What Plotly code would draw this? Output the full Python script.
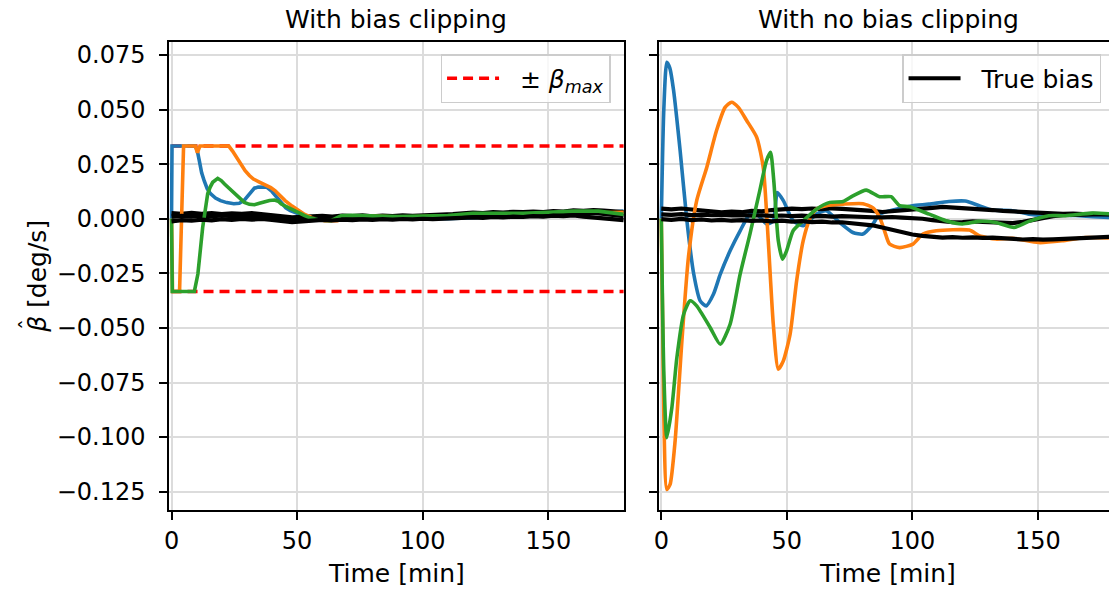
import plotly.graph_objects as go

# ---------------- data ----------------
beta_max = 0.0333
xtick_vals = [0, 50, 100, 150]
xtick_text = ["0", "50", "100", "150"]
ytick_vals = [0.075, 0.05, 0.025, 0.0, -0.025, -0.05, -0.075, -0.1, -0.125]
ytick_text = ["0.075", "0.050", "0.025", "0.000", "\u22120.025", "\u22120.050",
              "\u22120.075", "\u22120.100", "\u22120.125"]

# time grid of true bias samples [min]
t_true = [0, 4, 8, 12, 16, 20, 24, 28, 32, 36, 40, 44, 48, 52, 56, 60, 64, 68, 72, 76,
          80, 84, 88, 92, 96, 100, 104, 108, 112, 116, 120, 124, 128, 132, 136, 140,
          144, 148, 152, 156, 160, 164, 168, 172, 176, 180]

# left panel (with bias clipping) true biases
true_L1 = [0.0026, 0.0022, 0.0027, 0.0023, 0.0026, 0.0021, 0.0025, 0.0022, 0.0026, 0.0021,
           0.0019, 0.0012, 0.0006, 0.0009, 0.0011, 0.0013, 0.0010, 0.0014, 0.0012, 0.0015,
           0.0011, 0.0014, 0.0012, 0.0016, 0.0013, 0.0015, 0.0018, 0.0016, 0.0021, 0.0025,
           0.0028, 0.0026, 0.0030, 0.0028, 0.0032, 0.0030, 0.0033, 0.0031, 0.0035, 0.0033,
           0.0038, 0.0036, 0.0040, 0.0037, 0.0035, 0.0030]
true_L2 = [0.0009, 0.0013, 0.0010, 0.0014, 0.0011, 0.0015, 0.0012, 0.0014, 0.0010, 0.0012,
           0.0008, 0.0003, -0.0004, -0.0001, 0.0002, 0.0004, 0.0001, 0.0005, 0.0003, 0.0006,
           0.0002, 0.0005, 0.0004, 0.0007, 0.0005, 0.0008, 0.0006, 0.0010, 0.0009, 0.0013,
           0.0016, 0.0014, 0.0018, 0.0016, 0.0020, 0.0018, 0.0022, 0.0020, 0.0024, 0.0022,
           0.0026, 0.0024, 0.0027, 0.0022, 0.0016, 0.0012]
true_L3 = [-0.0012, -0.0006, -0.0009, -0.0004, -0.0007, -0.0002, -0.0005, -0.0001, -0.0004, -0.0001,
           -0.0005, -0.0010, -0.0016, -0.0012, -0.0008, -0.0005, -0.0008, -0.0004, -0.0006, -0.0003,
           -0.0005, -0.0002, -0.0004, -0.0001, -0.0003, 0.0000, -0.0002, 0.0001, 0.0000, 0.0003,
           0.0006, 0.0004, 0.0008, 0.0006, 0.0010, 0.0008, 0.0012, 0.0010, 0.0014, 0.0012,
           0.0015, 0.0010, 0.0006, 0.0001, -0.0004, -0.0006]

# right panel (no bias clipping) true biases
true_R1 = [0.0046, 0.0043, 0.0047, 0.0042, 0.0036, 0.0031, 0.0029, 0.0033, 0.0030, 0.0036,
           0.0034, 0.0040, 0.0043, 0.0046, 0.0044, 0.0047, 0.0044, 0.0048, 0.0045, 0.0043,
           0.0040, 0.0036, 0.0031, 0.0034, 0.0037, 0.0040, 0.0045, 0.0050, 0.0054, 0.0052,
           0.0048, 0.0045, 0.0042, 0.0040, 0.0036, 0.0033, 0.0030, 0.0028, 0.0025, 0.0024,
           0.0022, 0.0024, 0.0021, 0.0023, 0.0021, 0.0020]
true_R2 = [0.0020, 0.0018, 0.0021, 0.0017, 0.0019, 0.0016, 0.0018, 0.0015, 0.0017, 0.0014,
           0.0016, 0.0013, 0.0015, 0.0012, 0.0014, 0.0011, 0.0013, 0.0010, 0.0012, 0.0009,
           0.0010, 0.0007, 0.0006, 0.0008, 0.0005, 0.0004, 0.0000, -0.0006, -0.0012, -0.0016,
           -0.0015, -0.0012, -0.0014, -0.0016, -0.0018, -0.0020, -0.0014, -0.0004, 0.0006, 0.0012,
           0.0016, 0.0018, 0.0020, 0.0019, 0.0021, 0.0020]
true_R3 = [-0.0002, -0.0005, -0.0001, -0.0006, -0.0003, -0.0008, -0.0005, -0.0009, -0.0006, -0.0010,
           -0.0008, -0.0012, -0.0009, -0.0013, -0.0011, -0.0015, -0.0013, -0.0017, -0.0016, -0.0020,
           -0.0024, -0.0030, -0.0040, -0.0052, -0.0063, -0.0072, -0.0078, -0.0083, -0.0086, -0.0084,
           -0.0087, -0.0085, -0.0088, -0.0086, -0.0090, -0.0092, -0.0095, -0.0093, -0.0096, -0.0094,
           -0.0092, -0.0090, -0.0088, -0.0086, -0.0084, -0.0082]

# left panel estimates (clipped to +/- beta_max)
blueL_t = [0, 0.2, 9.5, 10.3, 11.0, 12.0, 13.0, 14.2, 15.5, 17.5, 19.5, 22.0, 24.8, 27.0, 29.0,
           31.3, 33.0, 34.5, 38.0, 40.0, 41.5, 43.3, 45.5, 47.3, 50.0, 52.6, 56.6, 60.0, 64.0,
           67.0, 72.0, 80, 90, 100, 110, 120, 130, 140, 150, 160, 170, 180]
blueL_v = [0.0, 0.0333, 0.0333, 0.031, 0.027, 0.021, 0.0174, 0.0138, 0.0115, 0.0095, 0.0083,
           0.0074, 0.0069, 0.0071, 0.0085, 0.012, 0.014, 0.0145, 0.0144, 0.0125, 0.0105, 0.0075,
           0.005, 0.0037, 0.0024, 0.0014, 0.0003, -0.0004, -0.0005, -0.0002, 0.0008, 0.0005,
           0.0003, 0.0002, 0.0, 0.0005, 0.001, 0.0012, 0.0018, 0.0022, 0.0025, 0.0035]
orangeL_t = [0, 0.4, 3.2, 4.8, 9.5, 10.3, 11.3, 22.8, 24.3, 26.0, 27.5, 29.3, 31.0, 32.6, 35.0,
             37.3, 39.5, 41.3, 43.3, 45.2, 48.0, 50.5, 53.0, 55.8, 58.5, 61.0, 66.0, 68.5, 71.6,
             80, 90, 100, 110, 120, 130, 140, 150, 160, 170, 180]
orangeL_v = [0.0, -0.0333, -0.0333, 0.0333, 0.0333, 0.0303, 0.0333, 0.0333, 0.031, 0.0281,
             0.025, 0.022, 0.0198, 0.0182, 0.0168, 0.0156, 0.0143, 0.0128, 0.0105, 0.0083,
             0.0058, 0.0037, 0.002, 0.0006, -0.0004, -0.0009, -0.0009, 0.0, 0.0006, 0.0012,
             0.0008, 0.001, 0.0008, 0.0012, 0.0015, 0.0018, 0.002, 0.0025, 0.0028, 0.003]
greenL_t = [0, 0.3, 9.1, 10.5, 12.4, 14.4, 15.4, 16.4, 18.4, 19.8, 21.1, 23.0, 25.0, 27.0, 29.0,
            31.0, 33.0, 35.0, 37.0, 39.0, 41.0, 42.5, 43.7, 45.7, 47.7, 50.0, 53.0, 55.5, 58.3,
            63.5, 65.5, 67.5, 71.6, 80, 90, 100, 110, 120, 130, 140, 150, 160, 170, 180]
greenL_v = [0.0, -0.0333, -0.0333, -0.0253, -0.004, 0.0115, 0.0145, 0.0167, 0.0185, 0.0175,
            0.0159, 0.014, 0.012, 0.0095, 0.0075, 0.0066, 0.0064, 0.0071, 0.0079, 0.0084, 0.0086,
            0.008, 0.0067, 0.0055, 0.0044, 0.003, 0.0014, 0.0003, -0.0005, -0.0009, 0.0003,
            0.0014, 0.0016, 0.0014, 0.001, 0.0012, 0.0015, 0.0025, 0.0025, 0.0025, 0.003, 0.0035,
            0.0035, 0.002]

# right panel estimates
blueR_t = [0, 1.0, 2.2, 3.4, 4.9, 7.5, 10.2, 12.9, 15.5, 17.9, 20.8, 23.5, 27.4, 31.4, 35.3,
           38, 42, 44.6, 46.2, 48.6, 52.5, 56.5, 61.8, 65.7, 71, 76.3, 80.3, 84.3, 86.9, 93.5,
           100, 106.6, 114.5, 121, 126.6, 131.9, 139.8, 146.4, 153, 159.6, 166.3, 172, 180]
blueR_v = [0.0, 0.05, 0.0717, 0.069, 0.0587, 0.0312, -0.0009, -0.0252, -0.0376, -0.0399,
           -0.0345, -0.0254, -0.0147, -0.0055, 0.0021, 0.0021, -0.0024, -0.001, 0.012, 0.0083,
           -0.0009, -0.0032, 0.0021, 0.0037, -0.0017, -0.0063, -0.007, -0.0024, 0.0021, 0.0044,
           0.006, 0.0067, 0.0079, 0.0081, 0.006, 0.004, 0.0037, 0.0021, 0.0014, 0.0018, 0.0014,
           0.001, 0.0005]
orangeR_t = [0, 1.0, 2.2, 3.5, 5.5, 8.2, 10.8, 14.1, 18.1, 22, 25.4, 28, 30.7, 34, 38, 40.6,
             42.6, 44.6, 46.6, 48.6, 51.3, 53.9, 56.5, 59.2, 61.8, 65.7, 72.4, 80.3, 84.3, 86.9,
             88.9, 90.9, 94.9, 100.2, 104.2, 109.5, 122.7, 126.6, 133.2, 139.8, 150.4, 159.6,
             168.9, 180]
orangeR_v = [0.0, -0.09, -0.124, -0.1217, -0.1018, -0.056, -0.0177, 0.0083, 0.0235, 0.0404,
             0.051, 0.0534, 0.051, 0.045, 0.0373, 0.0235, -0.0101, -0.0483, -0.0689, -0.0651,
             -0.0529, -0.0284, -0.0101, 0.0, 0.0044, 0.006, 0.0067, 0.0069, 0.005, 0.0008,
             -0.0055, -0.0116, -0.0132, -0.0116, -0.007, -0.0055, -0.0052, -0.0078, -0.0093,
             -0.009, -0.0109, -0.0101, -0.0086, -0.0089]
greenR_t = [0, 1.0, 2.2, 4.2, 6.2, 8.9, 11.5, 14.1, 19.5, 23.5, 27.4, 31.4, 35.3, 39.2, 41.9,
            43.5, 44.8, 46.6, 48.3, 49.9, 52.5, 56.5, 61.8, 67.1, 72.4, 76.3, 81.6, 86.9, 91.5,
            94.9, 98.8, 106.7, 113.3, 119.9, 126.6, 133.2, 140.5, 146.4, 154.3, 161, 171.6, 180]
greenR_v = [0.0, -0.07, -0.1003, -0.0866, -0.0636, -0.0437, -0.0376, -0.0399, -0.0499, -0.0575,
            -0.0483, -0.0254, -0.007, 0.0128, 0.0266, 0.0304, 0.0174, -0.0101, -0.0185, -0.0147,
            -0.0055, -0.0009, 0.0044, 0.0075, 0.0079, 0.0105, 0.0131, 0.0101, 0.0101, 0.006,
            0.0055, 0.0021, -0.0009, -0.0024, -0.0012, -0.0017, -0.004, -0.0012, 0.0014, 0.0014,
            0.0026, 0.0022]

C_BLUE, C_ORANGE, C_GREEN = "#1f77b4", "#ff7f0e", "#2ca02c"
LW = 3.6
BW = 4.2

fig = go.Figure()


def add(x, y, color, xa, ya, width=LW, name=None, legend=None, show=False, dash="solid",
        shape="linear"):
    line = dict(color=color, width=width, dash=dash, shape=shape)
    if shape == "spline":
        line["smoothing"] = 0.6
    fig.add_trace(go.Scatter(x=x, y=y, mode="lines", xaxis=xa, yaxis=ya, line=line,
                             name=name, showlegend=show, legend=legend, hoverinfo="skip"))


# left panel
add([0, 180], [beta_max, beta_max], "#ff0000", "x", "y",
    name="\u00a0\u00a0\u00b1\u00a0<i>\u03b2<sub>max</sub></i>", legend="legend", show=True,
    dash="10px,6px")
add([0, 180], [-beta_max, -beta_max], "#ff0000", "x", "y", dash="10px,6px")
add(blueL_t, blueL_v, C_BLUE, "x", "y")
add(t_true, true_L1, "black", "x", "y", width=BW)
add(orangeL_t, orangeL_v, C_ORANGE, "x", "y")
add(t_true, true_L2, "black", "x", "y", width=BW)
add(greenL_t, greenL_v, C_GREEN, "x", "y")
add(t_true, true_L3, "black", "x", "y", width=BW)

# right panel
add(blueR_t, blueR_v, C_BLUE, "x2", "y2", shape="spline")
add(t_true, true_R1, "black", "x2", "y2", width=BW, name="\u00a0\u00a0True bias",
    legend="legend2", show=True)
add(orangeR_t, orangeR_v, C_ORANGE, "x2", "y2", shape="spline")
add(t_true, true_R2, "black", "x2", "y2", width=BW)
add(greenR_t, greenR_v, C_GREEN, "x2", "y2", shape="spline")
add(t_true, true_R3, "black", "x2", "y2", width=BW)

W, H = 1109, 589
y_dom = [1 - 510 / H, 1 - 41.7 / H]
yr = [-0.1334, 0.0811]

axis_common = dict(showline=True, linecolor="black", linewidth=2, ticks="outside", ticklen=8,
                   tickwidth=2, tickcolor="black", showgrid=True, gridcolor="#dcdcdc",
                   gridwidth=2, zeroline=False, tickfont=dict(size=24, color="black"))

leg_common = dict(y=1 - 54 / H, xanchor="right", yanchor="top", itemwidth=52,
                  bgcolor="rgba(255,255,255,0.8)", bordercolor="#cccccc", borderwidth=1.5,
                  font=dict(size=25))

fig.update_layout(
    width=W, height=H,
    margin=dict(l=0, r=0, t=0, b=0),
    paper_bgcolor="white", plot_bgcolor="white",
    font=dict(family="DejaVu Sans", size=24, color="black"),
    xaxis=dict(domain=[165 / W, 621.7 / W], range=[-0.9, 180.1], tickvals=xtick_vals,
               ticktext=xtick_text, mirror=True, anchor="y", **axis_common),
    yaxis=dict(domain=y_dom, range=yr, tickvals=ytick_vals, ticktext=ytick_text,
               mirror=True, anchor="x", ticklabelstandoff=9, **axis_common),
    xaxis2=dict(domain=[657 / W, 1.0], range=[-0.9, 178.3], tickvals=xtick_vals,
                ticktext=xtick_text, mirror=True, anchor="y2", **axis_common),
    yaxis2=dict(domain=y_dom, range=yr, tickvals=ytick_vals, showticklabels=False,
                mirror=False, anchor="x2", **axis_common),
    legend=dict(x=608.3 / W, **leg_common),
    legend2=dict(x=1101 / W, **leg_common),
)

annots = [
    dict(text="With bias clipping", x=393 / W, y=1 - 20 / H),
    dict(text="With no bias clipping", x=888 / W, y=1 - 20 / H),
    dict(text="Time [min]", x=393.5 / W, y=1 - 573 / H),
    dict(text="Time [min]", x=886.5 / W, y=1 - 573 / H),
    dict(text="<i>\u03b2</i> [deg/s]", x=32 / W, y=1 - 276 / H, textangle=-90),
]
for a in annots:
    fig.add_annotation(xref="paper", yref="paper", showarrow=False, xanchor="center",
                       yanchor="middle", font=dict(size=25, color="black"), **a)
# circumflex of the beta-hat label
fig.add_annotation(xref="paper", yref="paper", showarrow=False, xanchor="center",
                   yanchor="middle", text="\u02c6", textangle=-90, x=22 / W, y=1 - 324 / H,
                   font=dict(size=22, color="black"))

fig.write_html("out.html")
